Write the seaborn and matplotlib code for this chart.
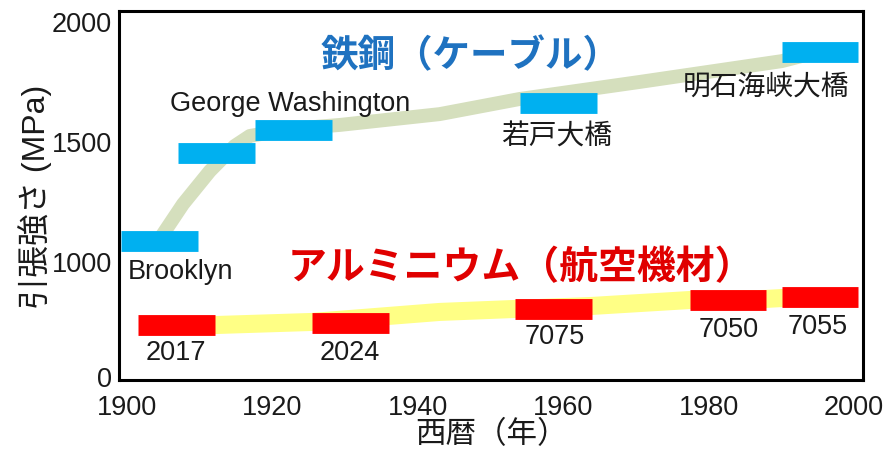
import numpy as np
import pandas as pd
import matplotlib
matplotlib.use("Agg")
import matplotlib.pyplot as plt
import seaborn as sns

# steel cable bars (start year, end year, MPa)
steel_names = ["Brooklyn", "George Washington", "George Washington", "若戸大橋", "明石海峡大橋"]
steel_start = [1899.2, 1907.0, 1917.6, 1954.0, 1990.1]
steel_end = [1909.8, 1917.6, 1928.2, 1964.6, 2000.5]
steel_mpa = [1083, 1450, 1544, 1660, 1871]

# aluminium alloy bars
alu_names = ["2017", "2024", "7075", "7050", "7055"]
alu_start = [1901.5, 1925.5, 1953.4, 1977.5, 1990.1]
alu_end = [1912.1, 1936.0, 1963.9, 1987.9, 2000.5]
alu_mpa = [443, 465, 583, 657, 683]

# trend bands behind the bars
steel_trend_year = [1904.5, 1907.7, 1911.4, 1914.8, 1916.9, 1922.4, 1929.3, 1943.0, 1954.0, 1970.5, 1990.1, 1993.8]
steel_trend_mpa = [1092, 1237, 1375, 1479, 1521, 1550, 1567, 1612, 1675, 1746, 1833, 1862]
alu_trend_year = [1903.2, 1912.1, 1925.5, 1943.0, 1953.4, 1963.9, 1977.5, 1987.9, 1990.1, 1997.9]
alu_trend_mpa = [435, 443, 470, 557, 583, 609, 661, 670, 678, 687]

x_ticks = [1900, 1920, 1940, 1960, 1980, 2000]
y_ticks = [0, 1000, 1500, 2000]

sns.set_theme(style="white")
latin = ["Liberation Sans", "Noto Sans CJK JP"]
cjk = ["Noto Sans CJK JP", "DejaVu Sans"]
plt.rcParams["font.family"] = latin


# the y axis is compressed below 1000 MPa
def forward(y):
    y = np.asarray(y, dtype=float)
    return np.where(y <= 1000, y * 0.115, 115 + (y - 1000) * 0.24)


def inverse(v):
    v = np.asarray(v, dtype=float)
    return np.where(v <= 115, v / 0.115, 1000 + (v - 115) / 0.24)


fig = plt.figure(figsize=(8.89, 4.56), dpi=100)
ax = fig.add_axes([0.1339, 0.1645, 0.8369, 0.8092])
ax.set_yscale("function", functions=(forward, inverse))

steel_df = pd.DataFrame({"year": steel_trend_year, "mpa": steel_trend_mpa})
alu_df = pd.DataFrame({"year": alu_trend_year, "mpa": alu_trend_mpa})
sns.lineplot(data=steel_df, x="year", y="mpa", ax=ax, sort=False, estimator=None,
             color="#D5DFBD", linewidth=10, solid_capstyle="butt", solid_joinstyle="round", zorder=1)
sns.lineplot(data=alu_df, x="year", y="mpa", ax=ax, sort=False, estimator=None,
             color="#FFFF85", linewidth=13, solid_capstyle="butt", solid_joinstyle="round", zorder=1)

sb = ax.hlines(steel_mpa, steel_start, steel_end, colors="#00B0F0", linewidth=15, zorder=2)
sb.set_capstyle("butt")
ab = ax.hlines(alu_mpa, alu_start, alu_end, colors="#FF0000", linewidth=15, zorder=2)
ab.set_capstyle("butt")

# bar labels
ax.text(1922.4, 1658, "George Washington", fontsize=19.5, ha="center", va="center", color="#1a1a1a")
ax.text(1900.1, 913, "Brooklyn", fontsize=19.5, ha="left", va="center", color="#1a1a1a")
ax.text(1959.1, 1521, "若戸大橋", fontsize=20, ha="center", va="center", color="#1a1a1a", family=cjk)
ax.text(1987.9, 1729, "明石海峡大橋", fontsize=20, ha="center", va="center", color="#1a1a1a", family=cjk)
alu_label_x = [1906.7, 1930.6, 1958.9, 1982.7, 1995.0]
alu_label_y = [209, 209, 348, 409, 435]
for name, lx, ly in zip(alu_names, alu_label_x, alu_label_y):
    ax.text(lx, ly, name, fontsize=19.5, ha="center", va="center", color="#1a1a1a")

ax.text(1947.2, 1858, "鉄鋼（ケーブル）", fontsize=27, fontweight="bold", ha="center", va="center",
        color="#1F72C0", family=cjk)
ax.text(1954.2, 955, "アルミニウム（航空機材）", fontsize=28, fontweight="bold", ha="center", va="center",
        color="#E00000", family=cjk)

ax.set_xlim(1898.9, 2001.24)
ax.set_ylim(-34.8, 2041.7)
ax.set_xticks(x_ticks)
ax.set_yticks(y_ticks)
ax.set_xticklabels([str(t) for t in x_ticks], fontsize=19.5, color="#1a1a1a")
ax.set_yticklabels([str(t) for t in y_ticks], fontsize=19.5, color="#1a1a1a")
ax.tick_params(axis="both", length=0)
ax.tick_params(axis="x", pad=10)
ax.tick_params(axis="y", pad=5)
ax.set_xlabel("西暦（年）", fontsize=22, family=cjk, color="#1a1a1a", labelpad=-1)
ax.set_ylabel("引張強さ (MPa)", fontsize=23, family=latin, color="#1a1a1a", labelpad=0)
for s in ax.spines.values():
    s.set_color("black")
    s.set_linewidth(2.2)
ax.grid(False)

fig.savefig("out.png", dpi=100)
